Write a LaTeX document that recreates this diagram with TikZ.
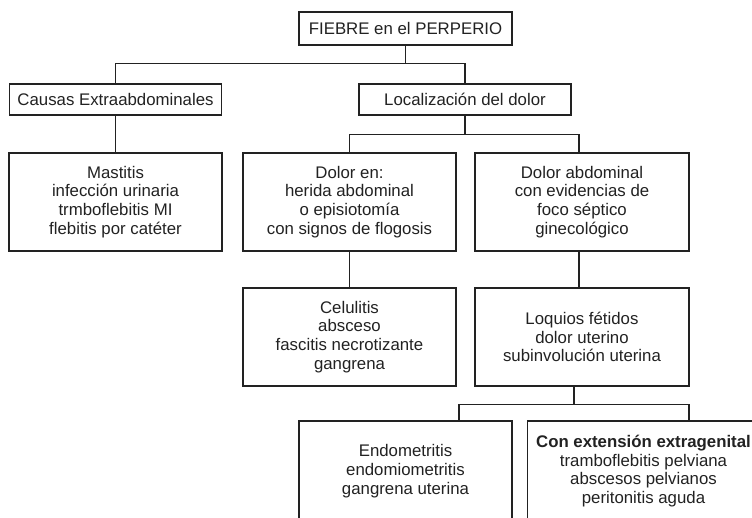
\documentclass[tikz,border=0pt]{standalone}
\usepackage{fontspec}
\setmainfont{Liberation Sans}
\definecolor{ink}{HTML}{222222}
\begin{document}
\begin{tikzpicture}[x=1pt,y=-1pt,
  box/.style={draw=ink, line width=1.8pt, inner sep=0pt, align=center,
    text=ink, font=\fontsize{16.8}{18.7}\selectfont, minimum width=213pt},
  conn/.style={draw=ink, line width=1.6pt}]
\useasboundingbox (0,0) rectangle (752,518);
\fill[white] (0,0) rectangle (752,518);
% level 0
\node[box, minimum height=33pt] (fiebre) at (405.5,28.5) {FIEBRE en el PERPERIO};
% level 1
\node[box, minimum width=212pt, minimum height=31pt] (causas) at (115.5,99.5) {Causas Extraabdominales};
\node[box, minimum width=212pt, minimum height=31pt] (loc) at (465,99.5) {Localización del dolor};
% level 2
\node[box, minimum height=98pt] (mast) at (115.5,202) {Mastitis\\infección urinaria\\trmboflebitis MI\\flebitis por catéter};
\node[box, minimum height=98pt] (dolor) at (349.5,202) {Dolor en:\\herida abdominal\\o episiotomía\\con signos de flogosis};
\node[box, minimum width=214pt, minimum height=98pt] (abd) at (582,202) {Dolor abdominal\\con evidencias de\\foco séptico\\ginecológico};
% level 3
\node[box, minimum height=98pt] (celu) at (349.5,337) {Celulitis\\absceso\\fascitis necrotizante\\gangrena};
\node[box, minimum width=214pt, minimum height=98pt] (loq) at (582,337) {Loquios fétidos\\dolor uterino\\subinvolución uterina};
% level 4
\node[box, minimum height=100pt] (endo) at (405.5,471) {Endometritis\\endomiometritis\\gangrena uterina};
\node[box, minimum width=232pt, minimum height=100pt] (con) at (643.5,471) {\textbf{Con extensión extragenital}\\tramboflebitis pelviana\\abscesos pelvianos\\peritonitis aguda};
% connectors
\draw[conn] (fiebre.south) -- ++(0,17.5) coordinate (j1);
\draw[conn] (causas.north) |- (j1) -| (loc.north);
\draw[conn] (causas.south) -- (mast.north);
\draw[conn] (loc.south) -- ++(0,18.5) coordinate (j2);
\draw[conn] (dolor.north) |- (j2) -| ([xshift=-3pt]abd.north);
\draw[conn] (dolor.south) -- (celu.north);
\draw[conn] ([xshift=-3pt]abd.south) -- ([xshift=-3pt]loq.north);
\draw[conn] ([xshift=-8pt]loq.south) -- ++(0,17.5) coordinate (j3);
\draw[conn] ([xshift=53.5pt]endo.north) |- (j3) -| ([xshift=45.5pt]con.north);
\end{tikzpicture}
\end{document}
